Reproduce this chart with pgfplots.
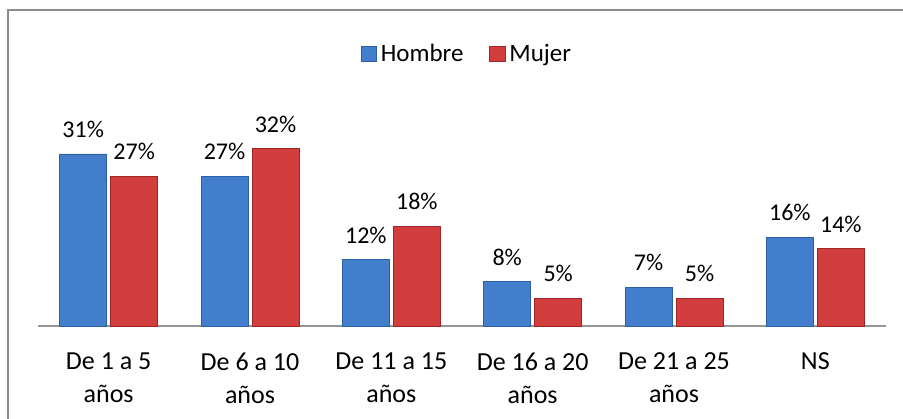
\documentclass[border=0pt]{standalone}
\usepackage{fontspec}
\setmainfont{Carlito}
\usepackage{pgfplots}
\pgfplotsset{compat=1.18}

\definecolor{hombreFill}{RGB}{66,126,204}
\definecolor{hombreEdge}{RGB}{45,95,165}
\definecolor{mujerFill}{RGB}{210,62,62}
\definecolor{mujerEdge}{RGB}{160,38,38}
\definecolor{framegray}{RGB}{140,140,140}
\definecolor{basegray}{RGB}{150,150,150}

\begin{document}
\begin{tikzpicture}
% picture is 903x418 px at 0.5pt per px
\clip (0,0) rectangle (451.5pt,209pt);
\draw[framegray, line width=1pt] (4pt,-5pt) -- (4pt,204pt) -- (460pt,204pt);

\begin{axis}[
    at={(19pt,46pt)}, anchor=south west,
    scale only axis,
    width=424pt, height=111pt,
    xmin=-0.5, xmax=5.5,
    ymin=0, ymax=40,
    ybar, bar width=23.5pt,
    axis y line=none,
    axis x line*=bottom,
    x axis line style={draw=basegray, line width=0.8pt, -},
    xtick={0,1,2,3,4,5},
    xticklabels={{De 1 a 5\\años}, {De 6 a 10\\años}, {De 11 a 15\\años},
                 {De 16 a 20\\años}, {De 21 a 25\\años}, {NS}},
    major tick length=0pt,
    xticklabel style={align=center, font=\fontsize{13}{16.5}\selectfont, yshift=-10pt},
    ytick=\empty,
    /pgf/number format/assume math mode=true,
    nodes near coords={\pgfmathprintnumber{\pgfplotspointmeta}\%},
    every node near coord/.append style={font=\fontsize{12}{14}\selectfont,
        text=black, yshift=4.5pt},
    legend style={at={(axis description cs:0.507,1.225)}, anchor=center,
        draw=none, fill=none, font=\fontsize{12.5}{15}\selectfont,
        /tikz/every even column/.append style={column sep=11pt}},
    legend columns=2,
    legend image code/.code={\path[#1] (0pt,-3.8pt) rectangle (7.6pt,3.8pt);},
    clip=false,
]
\addplot[fill=hombreFill, draw=hombreEdge, line width=0.4pt]
    coordinates {(0,31) (1,27) (2,12) (3,8) (4,7) (5,16)};
\addlegendentry{Hombre}
\addplot[fill=mujerFill, draw=mujerEdge, line width=0.4pt]
    coordinates {(0,27) (1,32) (2,18) (3,5) (4,5) (5,14)};
\addlegendentry{Mujer}
\end{axis}
\end{tikzpicture}
\end{document}
